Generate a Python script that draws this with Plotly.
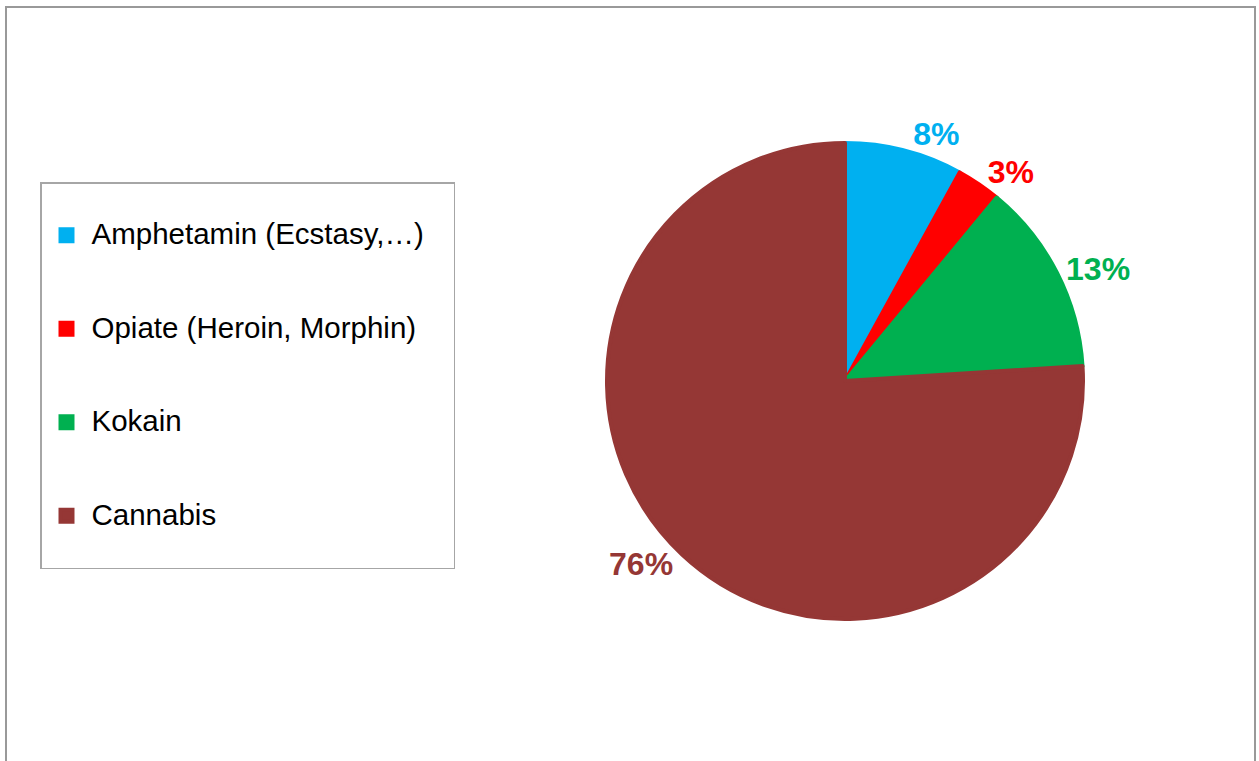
import plotly.graph_objects as go

categories = ["Amphetamin (Ecstasy,…)", "Opiate (Heroin, Morphin)", "Kokain", "Cannabis"]
values = [8, 3, 13, 76]
colors = ["#00B0F0", "#FF0000", "#00B050", "#953735"]

W, H = 1259, 761

# legend entries: larger text with blank lines above/below for Excel-like spacing
pad = "&nbsp;" * 3
legend_labels = ["<br><span style='font-size:29.5px'>%s%s</span><br> " % (c, pad if i == 0 else "")
                 for i, c in enumerate(categories)]

fig = go.Figure(go.Pie(
    labels=legend_labels,
    values=values,
    marker=dict(colors=colors, line=dict(width=4, color=colors)),
    sort=False,
    direction="clockwise",
    rotation=0,
    textposition="outside",
    texttemplate="%{percent:.0%}",
    textfont=dict(family="Liberation Sans, Arial", size=32, color=colors, weight="bold"),
    domain=dict(x=[607 / W, 1083 / W], y=[142 / H, 618 / H]),
    hoverinfo="skip",
))

fig.update_layout(
    width=W, height=H,
    margin=dict(l=0, r=0, t=0, b=0),
    paper_bgcolor="white",
    font=dict(family="Liberation Sans, Arial", color="black"),
    showlegend=True,
    legend=dict(
        x=40 / W, y=1 - 182 / H, xanchor="left", yanchor="top",
        bordercolor="#A6A6A6", borderwidth=1.5, bgcolor="white",
        font=dict(size=23.2, family="Liberation Sans, Arial", color="black"),
        itemwidth=40,
        itemclick=False, itemdoubleclick=False,
    ),
    shapes=[dict(type="rect", xref="paper", yref="paper",
                 x0=6 / W, x1=1255 / W, y0=-0.01, y1=1 - 7 / H,
                 line=dict(color="#999999", width=2), fillcolor="rgba(0,0,0,0)",
                 layer="below")],
)

fig.write_html("out.html", config={"displayModeBar": False},
               post_script="document.body.style.margin='0';")
